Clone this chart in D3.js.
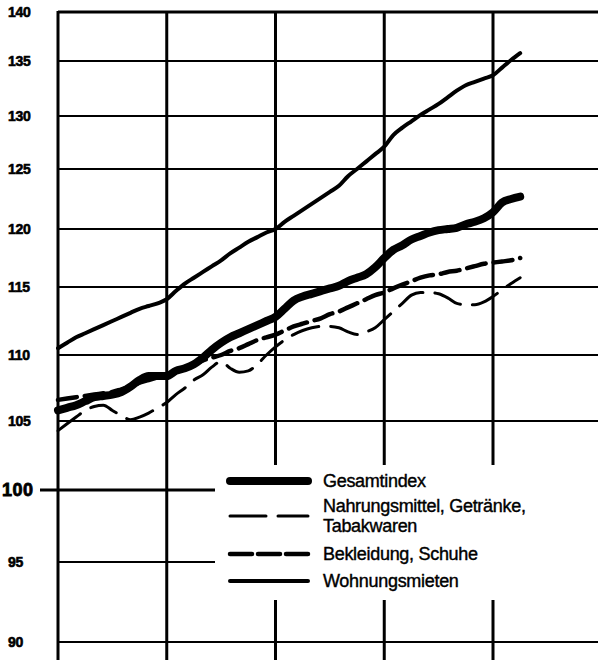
<!DOCTYPE html>
<html>
<head>
<meta charset="utf-8">
<script src="https://d3js.org/d3.v7.min.js"></script>
<style>
  body { margin: 0; background: #fff; }
  text { font-family: "Liberation Sans", Arial, sans-serif; fill: #000; }
</style>
</head>
<body>
<div id="svg-area"></div>
<script>

// Chart data (monthly index values, 100 = base year)
var months = d3.range(52);

var gesamtindex = [
  105.8, 106.0, 106.2, 106.5, 106.8, 106.9, 107.0, 107.2, 107.6, 108.1, 108.4, 108.4,
  108.4, 108.8, 109.0, 109.3, 109.8, 110.4, 110.9, 111.3, 111.6, 111.9, 112.2, 112.5,
  112.8, 113.4, 114.0, 114.3, 114.5, 114.7, 114.9, 115.1, 115.5, 115.8, 116.1, 116.7,
  117.5, 118.2, 118.6, 119.1, 119.4, 119.7, 119.9, 120.0, 120.1, 120.4, 120.6, 120.9,
  121.4, 122.2, 122.5, 122.7
];

var nahrungsmittel = [
  104.3, 104.8, 105.3, 105.8, 106.1, 106.2, 105.8, 105.4, 105.1, 105.3, 105.6, 106.0,
  106.4, 107.0, 107.5, 108.1, 108.5, 109.1, 109.5, 109.0, 108.7, 108.8, 109.3, 110.0,
  110.6, 111.1, 111.5, 111.8, 112.0, 112.1, 112.1, 112.0, 111.7, 111.5, 111.7, 112.0,
  112.6, 113.2, 113.8, 114.4, 114.6, 114.6, 114.5, 114.2, 113.8, 113.7, 113.7, 113.9,
  114.3, 114.8, 115.3, 115.8
];

var bekleidung = [
  106.6, 106.7, 106.8, 106.9, 107.0, 107.1, 107.2, 107.4, 107.6, 107.9, 108.1, 108.3,
  108.5, 108.8, 109.0, 109.3, 109.6, 109.8, 110.0, 110.3, 110.5, 110.8, 111.1, 111.3,
  111.5, 111.8, 112.1, 112.3, 112.5, 112.7, 113.0, 113.2, 113.5, 113.8, 114.1, 114.4,
  114.6, 114.9, 115.2, 115.5, 115.8, 116.0, 116.1, 116.3, 116.4, 116.6, 116.8, 117.0,
  117.1, 117.2, 117.3, 117.5
];

var wohnungsmieten = [
  110.5, 110.9, 111.3, 111.6, 111.9, 112.2, 112.5, 112.8, 113.1, 113.4, 113.6, 113.8,
  114.1, 114.7, 115.3, 115.8, 116.3, 116.8, 117.3, 117.9, 118.4, 118.9, 119.3, 119.7,
  120.0, 120.6, 121.1, 121.6, 122.1, 122.6, 123.1, 123.6, 124.4, 125.0, 125.7, 126.4,
  127.1, 128.2, 128.9, 129.5, 130.1, 130.6, 131.1, 131.7, 132.3, 132.8, 133.1, 133.4,
  133.7, 134.4, 135.1, 135.8
];

var yTicks = [90, 95, 100, 105, 110, 115, 120, 125, 130, 135, 140];
var xTicks = [0, 12, 24, 36, 48, 60];

var seriesLabels = [
  ["Gesamtindex"],
  ["Nahrungsmittel, Getränke,", "Tabakwaren"],
  ["Bekleidung, Schuhe"],
  ["Wohnungsmieten"]
];


// SVG area
var svgWidth = 598;
var svgHeight = 660;

var svg = d3.select("#svg-area")
  .append("svg")
  .attr("width", svgWidth)
  .attr("height", svgHeight);

svg.append("rect")
  .attr("width", svgWidth)
  .attr("height", svgHeight)
  .attr("fill", "#fff");

// Scales (the printed grid is hand drawn, so y uses a piecewise scale)
var xScale = d3.scaleLinear()
  .domain([0, 48])
  .range([58, 493]);

var yScale = d3.scaleLinear()
  .domain(yTicks)
  .range([642, 562, 490, 421, 355, 287, 229, 169, 116, 61, 12]);


// Grid
var gridGroup = svg.append("g");

// horizontal lines
gridGroup.selectAll(".hline")
  .data(yTicks)
  .enter()
  .append("line")
  .attr("class", "hline")
  .attr("x1", d => d === 100 ? 40 : xScale(0))
  .attr("x2", svgWidth)
  .attr("y1", d => yScale(d))
  .attr("y2", d => yScale(d))
  .attr("stroke", "#000")
  .attr("stroke-width", d => (d === 100 || d === 140) ? 3 : 2);

// vertical lines
gridGroup.selectAll(".vline")
  .data(xTicks)
  .enter()
  .append("line")
  .attr("class", "vline")
  .attr("x1", d => xScale(d))
  .attr("x2", d => xScale(d))
  .attr("y1", yScale(140) - 1)
  .attr("y2", svgHeight)
  .attr("stroke", "#000")
  .attr("stroke-width", 3);

// y labels
svg.selectAll(".ylabel")
  .data(yTicks)
  .enter()
  .append("text")
  .attr("class", "ylabel")
  .attr("x", d => d === 100 ? 2 : 8)
  .attr("y", d => yScale(d))
  .attr("dy", "0.36em")
  .attr("font-weight", "bold")
  .attr("font-size", d => d === 100 ? "18px" : "14px")
  .attr("letter-spacing", d => d === 100 ? "0.5px" : "-0.3px")
  .attr("stroke", "#000")
  .attr("stroke-width", d => d === 100 ? 0.8 : 0.6)
  .text(d => d);


// Legend box hides the grid behind it
var legendBox = {x: 215, y: 465, w: svgWidth - 215, h: 135};

svg.append("rect")
  .attr("x", legendBox.x)
  .attr("y", legendBox.y)
  .attr("width", legendBox.w)
  .attr("height", legendBox.h)
  .attr("fill", "#fff");


// Lines
var styles = [
  {width: 8, dash: null},
  {width: 3, dash: "28,12"},
  {width: 4.5, dash: "19,8"},
  {width: 4, dash: null}
];

var series = [gesamtindex, nahrungsmittel, bekleidung, wohnungsmieten];

var lineGen = d3.line()
  .x((d, i) => xScale(months[i]))
  .y(d => yScale(d))
  .curve(d3.curveMonotoneX);

svg.append("g")
  .selectAll("path")
  .data(series)
  .enter()
  .append("path")
  .attr("d", d => lineGen(d))
  .attr("fill", "none")
  .attr("stroke", "#000")
  .attr("stroke-width", (d, i) => styles[i].width)
  .attr("stroke-dasharray", (d, i) => styles[i].dash)
  .attr("stroke-linecap", "round")
  .attr("stroke-linejoin", "round");


// Legend
var legendRows = [481, 516, 554, 581];

var legend = svg.append("g");

legend.selectAll("line")
  .data(seriesLabels)
  .enter()
  .append("line")
  .attr("x1", 230)
  .attr("x2", 308)
  .attr("y1", (d, i) => legendRows[i])
  .attr("y2", (d, i) => legendRows[i])
  .attr("stroke", "#000")
  .attr("stroke-width", (d, i) => styles[i].width)
  .attr("stroke-dasharray", (d, i) => i === 1 ? "36,12" : i === 2 ? "22,6" : null)
  .attr("stroke-linecap", "round");

legend.selectAll("text")
  .data(seriesLabels)
  .enter()
  .append("text")
  .attr("x", 323)
  .attr("y", (d, i) => legendRows[i] + (i === 1 ? -4 : 6))
  .attr("font-size", "18px")
  .attr("letter-spacing", "-0.3px")
  .attr("stroke", "#000")
  .attr("stroke-width", 0.4)
  .each(function(d) {
    var t = d3.select(this);
    d.forEach(function(s, j) {
      t.append("tspan")
        .attr("x", 323)
        .attr("dy", j === 0 ? 0 : "1.12em")
        .text(s);
    });
  });

</script>
</body>
</html>
